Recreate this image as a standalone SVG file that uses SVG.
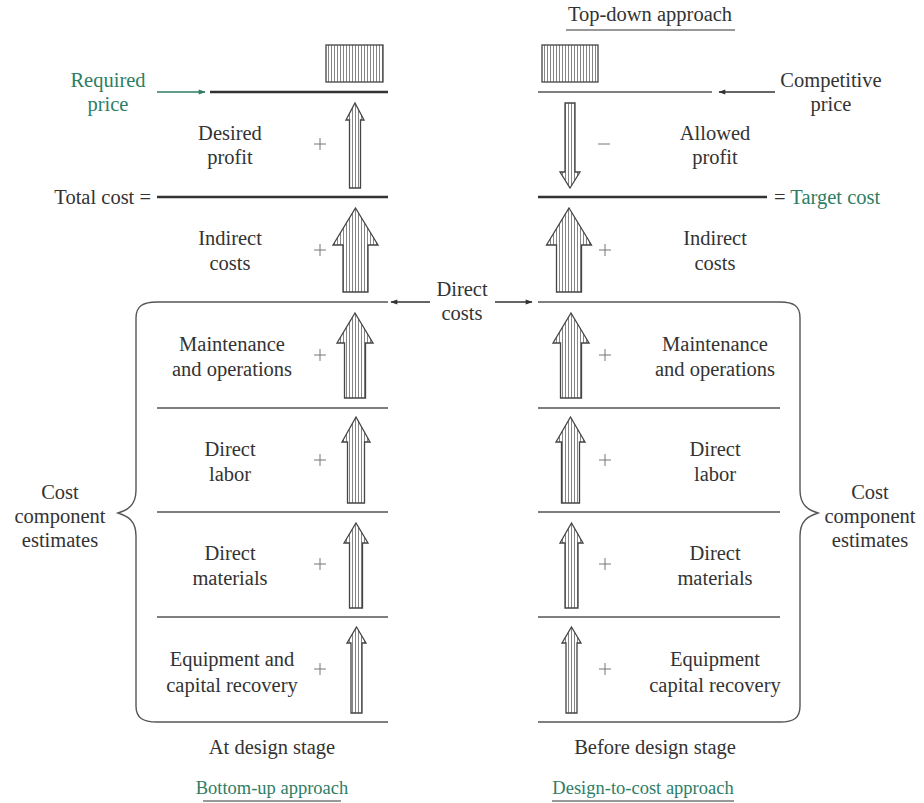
<svg xmlns="http://www.w3.org/2000/svg" width="924" height="803" viewBox="0 0 924 803">
  <defs>
    <pattern id="hatch" width="3" height="4" patternUnits="userSpaceOnUse">
      <rect width="3" height="4" fill="#fff"/>
      <line x1="1.5" y1="0" x2="1.5" y2="4" stroke="#666" stroke-width="0.8"/>
    </pattern>
    <marker id="ah" viewBox="0 0 10 10" refX="9" refY="5" markerWidth="9" markerHeight="7" markerUnits="userSpaceOnUse" orient="auto">
      <path d="M0,1.5 L10,5 L0,8.5 Z" fill="#333"/>
    </marker>
    <marker id="ahg" viewBox="0 0 10 10" refX="9" refY="5" markerWidth="9" markerHeight="7" markerUnits="userSpaceOnUse" orient="auto">
      <path d="M0,1.5 L10,5 L0,8.5 Z" fill="#2e7d64"/>
    </marker>
  </defs>
  <style>
    text { font-size: 20.5px; fill: #333; text-anchor: middle; }
    .g { fill: #2e7d64; }
    .cap { font-size: 18.5px; }
    .st { text-anchor: start; }
    .en { text-anchor: end; }
    .rule { stroke: #555; stroke-width: 1.4; fill: none; }
    .thick { stroke: #333; stroke-width: 2.6; fill: none; }
    .arr { fill: url(#hatch); stroke: #444; stroke-width: 1.3; stroke-linejoin: miter; }
    .box { fill: url(#hatch); stroke: #444; stroke-width: 1.3; }
    .brace { fill: none; stroke: #555; stroke-width: 1.4; }
    .op { stroke: #777; stroke-width: 1; fill: none; }
  </style>

  <rect width="924" height="803" fill="#fff"/>

  <g font-family="'Liberation Serif', 'DejaVu Serif', serif">
  <!-- headings -->
  <g id="title-top">
    <text x="650" y="21">Top-down approach</text>
    <line x1="566" y1="30" x2="735" y2="30" stroke="#333" stroke-width="1.2"/>
  </g>
  <g id="footer-left">
    <text x="272" y="754">At design stage</text>
    <text x="272" y="794" class="g cap">Bottom-up approach</text>
    <line x1="203" y1="801" x2="341" y2="801" stroke="#333" stroke-width="1.2"/>
  </g>
  <g id="footer-right">
    <text x="655" y="754">Before design stage</text>
    <text x="643" y="794" class="g cap">Design-to-cost approach</text>
    <line x1="552" y1="801" x2="734" y2="801" stroke="#333" stroke-width="1.2"/>
  </g>

  <!-- price blocks -->
  <g id="price-left"><rect class="box" x="326" y="45" width="57" height="37"/></g>
  <g id="price-right"><rect class="box" x="542" y="45" width="56" height="37"/></g>

  <!-- level rules -->
  <g id="rules">
    <line class="thick" x1="210" y1="92" x2="388" y2="92"/>
    <line class="rule" x1="538" y1="92" x2="712" y2="92"/>
    <line class="thick" x1="157" y1="197" x2="388" y2="197"/>
    <line class="thick" x1="538" y1="197" x2="767" y2="197"/>
    <line class="rule" x1="157" y1="302" x2="388" y2="302"/>
    <line class="rule" x1="538" y1="302" x2="780" y2="302"/>
    <line class="rule" x1="157" y1="408" x2="388" y2="408"/>
    <line class="rule" x1="538" y1="408" x2="780" y2="408"/>
    <line class="rule" x1="157" y1="512" x2="388" y2="512"/>
    <line class="rule" x1="538" y1="512" x2="780" y2="512"/>
    <line class="rule" x1="157" y1="617" x2="388" y2="617"/>
    <line class="rule" x1="538" y1="617" x2="780" y2="617"/>
    <line class="rule" x1="157" y1="722" x2="388" y2="722"/>
    <line class="rule" x1="538" y1="722" x2="780" y2="722"/>
  </g>

  <!-- pointer arrows -->
  <g id="connectors">
    <line x1="157" y1="92" x2="205" y2="92" stroke="#2e7d64" stroke-width="1.3" marker-end="url(#ahg)"/>
    <line x1="775" y1="92" x2="719" y2="92" stroke="#333" stroke-width="1.3" marker-end="url(#ah)"/>
    <line x1="430" y1="302" x2="391" y2="302" stroke="#333" stroke-width="1.3" marker-end="url(#ah)"/>
    <line x1="495" y1="302" x2="532" y2="302" stroke="#333" stroke-width="1.3" marker-end="url(#ah)"/>
  </g>

  <!-- side labels -->
  <g id="required-price">
    <text x="108" y="87" class="g">Required</text>
    <text x="108" y="111" class="g">price</text>
  </g>
  <g id="total-cost"><text x="151" y="204" class="en">Total cost =</text></g>
  <g id="target-cost"><text x="774" y="204" class="st">= <tspan class="g">Target cost</tspan></text></g>
  <g id="competitive-price">
    <text x="831" y="87">Competitive</text>
    <text x="831" y="111">price</text>
  </g>
  <g id="direct-costs">
    <text x="462" y="296">Direct</text>
    <text x="462" y="320">costs</text>
  </g>

  <!-- left column -->
  <g id="desired-profit">
    <text x="230" y="140">Desired</text>
    <text x="230" y="164">profit</text>
    <path class="op" d="M314,144 h12 M320,138 v12"/>
    <path class="arr" d="M355,103 L364,120 L360.5,120 L360.5,188 L349.5,188 L349.5,120 L346,120 Z"/>
  </g>
  <g id="indirect-left">
    <text x="230" y="245">Indirect</text>
    <text x="230" y="270">costs</text>
    <path class="op" d="M314,250 h12 M320,244 v12"/>
    <path class="arr" d="M355.5,208 L378,245 L368,245 L368,292 L343,292 L343,245 L333,245 Z"/>
  </g>
  <g id="maint-left">
    <text x="232" y="351">Maintenance</text>
    <text x="232" y="376">and operations</text>
    <path class="op" d="M314,355 h12 M320,349 v12"/>
    <path class="arr" d="M355,313 L373,343 L365.5,343 L365.5,398 L344.5,398 L344.5,343 L337,343 Z"/>
  </g>
  <g id="labor-left">
    <text x="230" y="456">Direct</text>
    <text x="230" y="481">labor</text>
    <path class="op" d="M314,460 h12 M320,454 v12"/>
    <path class="arr" d="M356,417 L370,442 L364.5,442 L364.5,503 L347.5,503 L347.5,442 L342,442 Z"/>
  </g>
  <g id="materials-left">
    <text x="230" y="560">Direct</text>
    <text x="230" y="585">materials</text>
    <path class="op" d="M314,564 h12 M320,558 v12"/>
    <path class="arr" d="M356,523 L368,543 L362.5,543 L362.5,608 L349.5,608 L349.5,543 L344,543 Z"/>
  </g>
  <g id="equipment-left">
    <text x="232" y="666">Equipment and</text>
    <text x="232" y="692">capital recovery</text>
    <path class="op" d="M314,669 h12 M320,663 v12"/>
    <path class="arr" d="M356.5,627 L366,643 L362,643 L362,713 L351,713 L351,643 L347,643 Z"/>
  </g>

  <!-- right column -->
  <g id="allowed-profit">
    <text x="715" y="140">Allowed</text>
    <text x="715" y="164">profit</text>
    <line class="op" x1="598" y1="144" x2="610" y2="144"/>
    <path class="arr" d="M570,188 L580,172 L575,172 L575,103 L565,103 L565,172 L560,172 Z"/>
  </g>
  <g id="indirect-right">
    <text x="715" y="245">Indirect</text>
    <text x="715" y="270">costs</text>
    <path class="op" d="M599,250 h12 M605,244 v12"/>
    <path class="arr" d="M569,208 L591.5,245 L581.5,245 L581.5,292 L556.5,292 L556.5,245 L546.5,245 Z"/>
  </g>
  <g id="maint-right">
    <text x="715" y="351">Maintenance</text>
    <text x="715" y="376">and operations</text>
    <path class="op" d="M599,355 h12 M605,349 v12"/>
    <path class="arr" d="M571,313 L589,343 L581.5,343 L581.5,398 L560.5,398 L560.5,343 L553,343 Z"/>
  </g>
  <g id="labor-right">
    <text x="715" y="456">Direct</text>
    <text x="715" y="481">labor</text>
    <path class="op" d="M599,460 h12 M605,454 v12"/>
    <path class="arr" d="M570.5,417 L585,442 L579.5,442 L579.5,503 L561.5,503 L561.5,442 L556,442 Z"/>
  </g>
  <g id="materials-right">
    <text x="715" y="560">Direct</text>
    <text x="715" y="585">materials</text>
    <path class="op" d="M599,564 h12 M605,558 v12"/>
    <path class="arr" d="M571.5,523 L583,543 L578,543 L578,608 L565,608 L565,543 L560,543 Z"/>
  </g>
  <g id="equipment-right">
    <text x="715" y="666">Equipment</text>
    <text x="715" y="692">capital recovery</text>
    <path class="op" d="M599,669 h12 M605,663 v12"/>
    <path class="arr" d="M571.5,627 L581,643 L577,643 L577,713 L566,713 L566,643 L562,643 Z"/>
  </g>

  <!-- braces -->
  <g id="brace-left">
    <path class="brace" d="M157,302 C143,302 136,306 136,318 L136,490 C136,505 128,510 118,513 C128,516 136,521 136,536 L136,706 C136,718 143,722 157,722"/>
    <text x="60" y="499">Cost</text>
    <text x="60" y="523">component</text>
    <text x="60" y="547">estimates</text>
  </g>
  <g id="brace-right">
    <path class="brace" d="M780,302 C794,302 800,306 800,318 L800,490 C800,505 808,510 818,513 C808,516 800,521 800,536 L800,706 C800,718 794,722 780,722"/>
    <text x="870" y="499">Cost</text>
    <text x="870" y="523">component</text>
    <text x="870" y="547">estimates</text>
  </g>
  </g>
</svg>
